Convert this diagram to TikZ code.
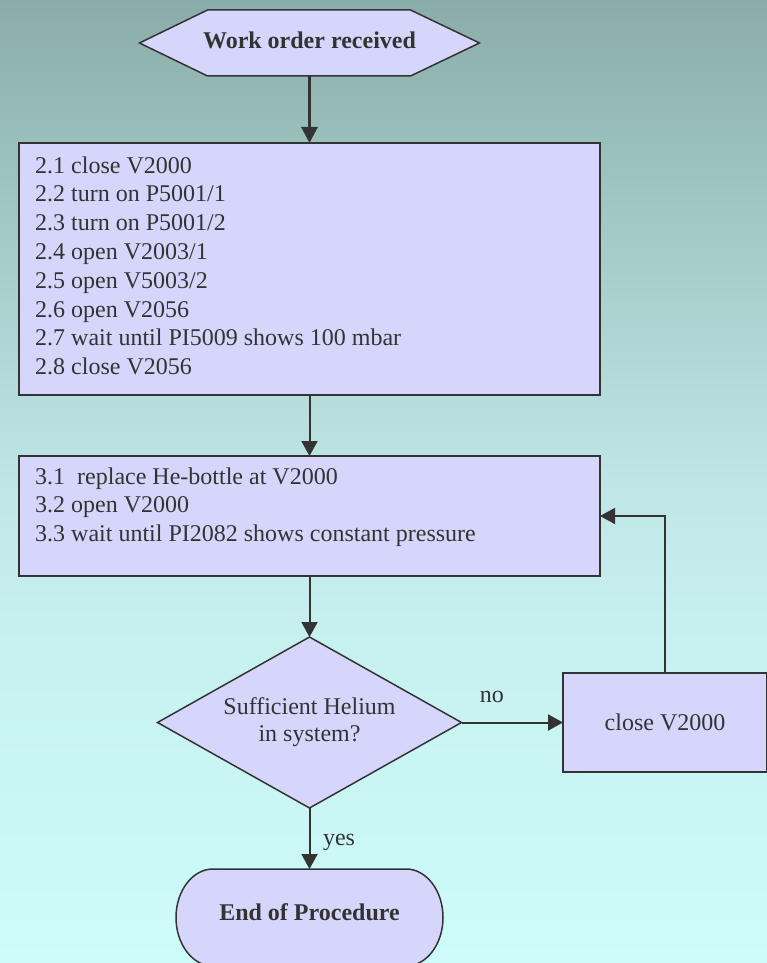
\documentclass[tikz,border=0pt]{standalone}
\usepackage{fontspec}
\setmainfont{Liberation Serif}
\usetikzlibrary{arrows.meta,shapes.geometric}
\pgfdeclarelayer{bglayer}
\pgfdeclarelayer{shapelayer}
\pgfsetlayers{bglayer,shapelayer,main}
\definecolor{boxfill}{RGB}{214,214,252}
\definecolor{ink}{RGB}{51,51,51}
\definecolor{bgA}{RGB}{138,172,168}
\definecolor{bgB}{RGB}{152,190,186}
\definecolor{bgC}{RGB}{190,230,228}
\definecolor{bgD}{RGB}{198,240,238}
\definecolor{bgE}{RGB}{205,252,250}
\tikzset{
  box/.style={draw=ink, fill=boxfill, line width=1.5pt, rectangle, inner sep=0pt, outer sep=0pt},
  outline/.style={draw=ink, fill=boxfill, line width=1.5pt, line join=miter},
  lbl/.style={text=ink, font=\fontsize{24}{28.8}\selectfont, inner sep=0pt},
  conn/.style={draw=ink, line width=2pt, -{Triangle[length=15pt,width=16pt]}},
  thinconn/.style={draw=ink, line width=1.5pt, -{Triangle[length=15pt,width=16pt]}},
}
\begin{document}
\begin{tikzpicture}[x=1pt,y=-1pt]
\useasboundingbox (0,0) rectangle (767,963);
\begin{pgfonlayer}{bglayer}
\shade[top color=bgA, bottom color=bgB] (0,0) rectangle (767,130.5);
\shade[top color=bgB, bottom color=bgC] (0,130) rectangle (767,480.5);
\shade[top color=bgC, bottom color=bgD] (0,480) rectangle (767,620.5);
\shade[top color=bgD, bottom color=bgE] (0,620) rectangle (767,963);
\end{pgfonlayer}

% start
\node[lbl, outer sep=0pt, font=\fontsize{24}{28.8}\selectfont\bfseries, minimum width=340pt, minimum height=66pt] (start) at (309.5,43) {\raisebox{2.5pt}[16pt][0pt]{Work order received}};
\begin{pgfonlayer}{shapelayer}
\path[outline] (start.west) -- ([xshift=68pt]start.north west) -- ([xshift=-69pt]start.north east) -- (start.east) -- ([xshift=-69pt]start.south east) -- ([xshift=68pt]start.south west) -- cycle;
\end{pgfonlayer}

% step 2
\node[box, anchor=north west, minimum width=581pt, minimum height=252pt] (s2) at (19,143) {};
\node[lbl, anchor=base west] (s2t) at (35,173) {\parbox[t]{550pt}{2.1 close V2000\\
2.2 turn on P5001/1\\
2.3 turn on P5001/2\\
2.4 open V2003/1\\
2.5 open V5003/2\\
2.6 open V2056\\
2.7 wait until PI5009 shows 100 mbar\\
2.8 close V2056}};

% step 3
\node[box, anchor=north west, minimum width=581pt, minimum height=120pt] (s3) at (19,456) {};
\node[lbl, anchor=base west] (s3t) at (35,484) {\parbox[t]{550pt}{3.1\ \ replace He-bottle at V2000\\
3.2 open V2000\\
3.3 wait until PI2082 shows constant pressure}};

% decision
\node[diamond, draw=ink, fill=boxfill, line width=1.5pt, inner sep=0pt, outer sep=0pt, aspect=1.78, minimum width=304pt, minimum height=171pt, text=ink, align=center, font=\fontsize{24}{27}\selectfont] (q) at (309.5,722.5) {Sufficient Helium\\in system?};

% close box
\node[box, lbl, minimum width=204pt, minimum height=99pt] (s4) at (665,722.5) {close V2000};

% end
\node[lbl, outer sep=0pt, font=\fontsize{24}{28.8}\selectfont\bfseries, minimum width=267pt, minimum height=97pt] (end) at (309.5,917.5) {\raisebox{5.5pt}[16pt][0pt]{End of Procedure}};
\begin{pgfonlayer}{shapelayer}
\path[outline] ([xshift=37pt]end.north west) -- ([xshift=-37pt]end.north east) arc[start angle=90, end angle=-90, x radius=37pt, y radius=48.5pt] -- ([xshift=37pt]end.south west) arc[start angle=270, end angle=90, x radius=37pt, y radius=48.5pt] -- cycle;
\end{pgfonlayer}

% connectors
\draw[conn, line width=3pt, -{Triangle[length=16pt,width=16pt]}] (start.south) -- (s2.north);
\draw[conn] (s2.south) -- (s3.north);
\draw[conn] (s3.south) -- (q.north);
\draw[conn] (q.east) -- node[lbl, pos=0.3, anchor=base, yshift=20pt] (nolbl) {no} (s4.west);
\draw[conn] (q.south) -- node[lbl, pos=0.607, anchor=base west, xshift=12.5pt] (yeslbl) {yes} (end.north);
\draw[thinconn] (s4.north) |- (s3.east);
\end{tikzpicture}
\end{document}
